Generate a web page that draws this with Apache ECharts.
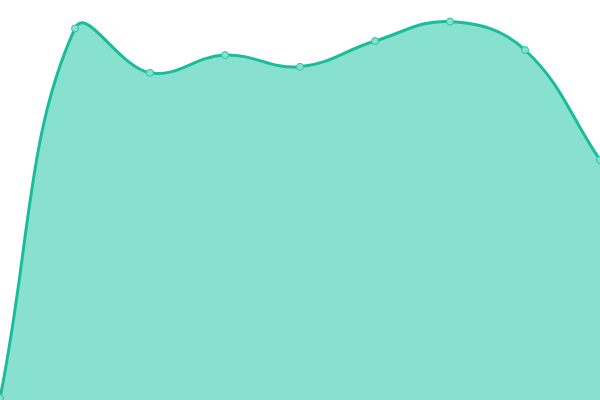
<!DOCTYPE html>
<html><head><meta charset="utf-8">
<script src="https://cdn.jsdelivr.net/npm/echarts@6/dist/echarts.min.js"></script>
<style>html,body{margin:0;padding:0;background:#fff}#c{width:600px;height:400px}</style>
</head><body><div id="c"></div>
<script>
var categories = ['1','2','3','4','5','6','7','8','9'];
var values = [0.5, 92.9, 81.8, 86.25, 83.3, 89.75, 94.6, 87.5, 60];
var TENSION = 0.4;

function splinePath(pts) {
  var cps = pts.map(function (p, i) {
    var prev = pts[i - 1] || p, next = pts[i + 1] || p;
    var d01 = Math.hypot(p[0] - prev[0], p[1] - prev[1]);
    var d12 = Math.hypot(next[0] - p[0], next[1] - p[1]);
    var s = d01 + d12 || 1;
    var fa = TENSION * d01 / s, fb = TENSION * d12 / s;
    return {
      prev: [p[0] - fa * (next[0] - prev[0]), p[1] - fa * (next[1] - prev[1])],
      next: [p[0] + fb * (next[0] - prev[0]), p[1] + fb * (next[1] - prev[1])]
    };
  });
  var d = 'M' + pts[0][0] + ' ' + pts[0][1];
  for (var i = 1; i < pts.length; i++) {
    var a = cps[i - 1].next, b = cps[i].prev, p = pts[i];
    d += ' C' + a[0] + ' ' + a[1] + ' ' + b[0] + ' ' + b[1] + ' ' + p[0] + ' ' + p[1];
  }
  return d;
}

var chart = echarts.init(document.getElementById('c'));
chart.setOption({
  animation: false,
  grid: {left: 0, right: 0, top: 0, bottom: 0},
  xAxis: {type: 'category', data: categories, boundaryGap: false, show: false},
  yAxis: {type: 'value', min: 0, max: 100, show: false},
  series: [{
    type: 'custom',
    data: values.map(function (v, i) { return [i, v]; }),
    renderItem: function (params, api) {
      if (params.dataIndex !== 0) return null;
      var pts = values.map(function (v, i) { return api.coord([i, v]); });
      var base0 = api.coord([0, 0]), base1 = api.coord([values.length - 1, 0]);
      var line = splinePath(pts);
      var area = line + ' L' + base1[0] + ' ' + base1[1] + ' L' + base0[0] + ' ' + base0[1] + ' Z';
      return {
        type: 'group',
        children: [
          {type: 'path', shape: {pathData: area}, style: {fill: '#88e0cf', stroke: null}},
          {type: 'path', shape: {pathData: line}, style: {fill: null, stroke: '#1abc9c', lineWidth: 3}}
        ]
      };
    },
    z: 1
  }, {
    type: 'line',
    data: values,
    symbol: 'circle',
    symbolSize: 7,
    showAllSymbol: true,
    lineStyle: {opacity: 0},
    itemStyle: {color: '#88e0cf', borderColor: '#2cc3a5', borderWidth: 1},
    z: 3
  }]
});
</script></body></html>
